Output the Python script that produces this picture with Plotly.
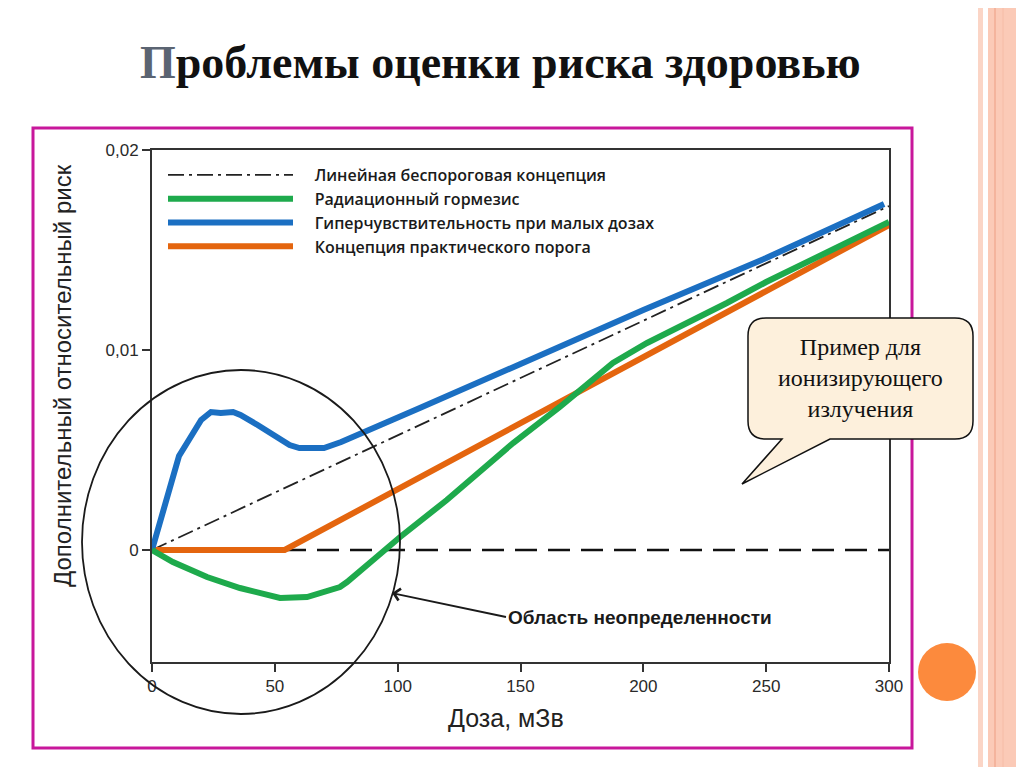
import plotly.graph_objects as go

# ---------------- data ----------------
series_names = [
    "Линейная беспороговая концепция",
    "Радиационный гормезис",
    "Гиперчувствительность при малых дозах",
    "Концепция практического порога",
]

dose_lnt = [0, 300]
risk_lnt = [0, 0.0172]

dose_zero = [0, 300]
risk_zero = [0, 0]

dose_hormesis = [0, 2.4, 8.5, 22.4, 35.8, 52.1, 63.1, 76.5, 79.4, 90, 101, 120, 147, 166, 174,
                 187.6, 201.5, 215, 234, 250, 300]
risk_hormesis = [0, -0.00015, -0.0006, -0.00135, -0.0019, -0.0024, -0.00235, -0.00185, -0.0016,
                 -0.0005, 0.00065, 0.0025, 0.00535, 0.00715, 0.008, 0.00935, 0.01035, 0.01115,
                 0.01235, 0.0134, 0.0164]

dose_hyper = [0, 5, 11, 15, 20, 24, 28, 33, 36, 43, 49, 56, 60, 70, 77, 86, 109, 150, 200, 250, 298]
risk_hyper = [0, 0.0022, 0.0047, 0.0055, 0.0065, 0.0069, 0.00685, 0.0069, 0.00675, 0.00625,
              0.00575, 0.00525, 0.0051, 0.0051, 0.0054, 0.0059, 0.0071, 0.0093, 0.0120, 0.0146, 0.0173]

dose_threshold = [0, 54, 300]
risk_threshold = [0, 0, 0.01625]

x_tick_vals = [0, 50, 100, 150, 200, 250, 300]
x_tick_text = ["0", "50", "100", "150", "200", "250", "300"]
y_tick_vals = [0, 0.01, 0.02]
y_tick_text = ["0", "0,01", "0,02"]

title_first = "П"
title_rest = "роблемы оценки риска здоровью"
x_title = "Доза, мЗв"
y_title = "Дополнительный относительный риск"
callout_text = "Пример для<br>ионизирующего<br>излучения"
region_text = "Область неопределенности"

# ---------------- layout geometry (page pixels) ----------------
W, H = 1024, 767
OFF = 8                      # default body margin of the html page
PL, PR, PT, PB = 152, 889, 150, 662
FW, FH = W - OFF, H - OFF    # figure size so that it fits the window
LEG_PAD = "\u00a0" * 4       # visual gap between legend line and its text


def fx(p):
    return (p - PL) / (PR - PL)


def fy(p):
    return (PB - p) / (PB - PT)


SANS = "Liberation Sans, Arial, sans-serif"
LEGSANS = "Open Sans, Liberation Sans, Arial, sans-serif"
SERIF = "Liberation Serif, Times New Roman, serif"

fig = go.Figure()

fig.add_trace(go.Scatter(x=dose_zero, y=risk_zero, mode="lines", showlegend=False,
                         line=dict(color="#111111", width=2.5, dash="22px,11px"),
                         hoverinfo="skip"))
fig.add_trace(go.Scatter(x=dose_lnt, y=risk_lnt, mode="lines", name=LEG_PAD + series_names[0],
                         legendrank=1,
                         line=dict(color="#222222", width=1.8, dash="16px,5px,3px,5px")))
fig.add_trace(go.Scatter(x=dose_threshold, y=risk_threshold, mode="lines", name=LEG_PAD + series_names[3],
                         legendrank=4,
                         line=dict(color="#e4650e", width=6)))
fig.add_trace(go.Scatter(x=dose_hyper, y=risk_hyper, mode="lines", name=LEG_PAD + series_names[2],
                         legendrank=3,
                         line=dict(color="#1b6fc2", width=6)))
fig.add_trace(go.Scatter(x=dose_hormesis, y=risk_hormesis, mode="lines", name=LEG_PAD + series_names[1],
                         legendrank=2,
                         line=dict(color="#1eaa4c", width=6)))

axis_common = dict(showline=True, mirror=True, linecolor="#333333", linewidth=2,
                   showgrid=False, zeroline=False, ticks="outside", ticklen=8,
                   tickwidth=1.5, tickcolor="#333333",
                   tickfont=dict(family=SANS, size=17, color="#2a2a2a"))

fig.update_xaxes(range=[0, 300], tickvals=x_tick_vals, ticktext=x_tick_text, **axis_common)
fig.update_yaxes(range=[(550 - PB) / 20000, 0.02], tickvals=y_tick_vals, ticktext=y_tick_text,
                 **axis_common)

shapes = []
# slide decoration stripes on the right
shapes.append(dict(type="rect", xref="paper", yref="paper", x0=fx(978), x1=fx(983), y0=fy(0), y1=fy(H),
                   fillcolor="#fbd5c6", line=dict(width=0), layer="below"))
shapes.append(dict(type="rect", xref="paper", yref="paper", x0=fx(988), x1=fx(W), y0=fy(0), y1=fy(H),
                   fillcolor="#fbcab7", line=dict(width=0), layer="below"))
shapes.append(dict(type="line", xref="paper", yref="paper", x0=fx(995), x1=fx(995), y0=fy(0), y1=fy(H),
                   line=dict(color="#f2ad94", width=1.5), layer="below"))
shapes.append(dict(type="line", xref="paper", yref="paper", x0=fx(1003), x1=fx(1003), y0=fy(0), y1=fy(H),
                   line=dict(color="#f6bca6", width=1), layer="below"))
# magenta frame
shapes.append(dict(type="rect", xref="paper", yref="paper", x0=fx(33), x1=fx(912), y0=fy(128), y1=fy(748),
                   line=dict(color="#c8179b", width=3), fillcolor="rgba(0,0,0,0)", layer="above"))
# uncertainty region ellipse
shapes.append(dict(type="circle", xref="paper", yref="paper", x0=fx(82), x1=fx(400), y0=fy(370), y1=fy(714),
                   line=dict(color="#1a1a1a", width=1.8), fillcolor="rgba(0,0,0,0)", layer="above"))
# orange circle decoration
shapes.append(dict(type="circle", xref="paper", yref="paper", x0=fx(918), x1=fx(976), y0=fy(643), y1=fy(701),
                   line=dict(width=0), fillcolor="#fc8a3d", layer="above"))

# callout bubble path
bx0, bx1, by0, by1, r = 748, 973, 318, 439, 18


def P(x, y):
    return f"{fx(x):.5f},{fy(y):.5f}"


path = (f"M{P(bx0 + r, by0)} L{P(bx1 - r, by0)} Q{P(bx1, by0)} {P(bx1, by0 + r)} "
        f"L{P(bx1, by1 - r)} Q{P(bx1, by1)} {P(bx1 - r, by1)} L{P(830, by1)} L{P(742, 484)} "
        f"L{P(782, by1)} L{P(bx0 + r, by1)} Q{P(bx0, by1)} {P(bx0, by1 - r)} "
        f"L{P(bx0, by0 + r)} Q{P(bx0, by0)} {P(bx0 + r, by0)} Z")
shapes.append(dict(type="path", xref="paper", yref="paper", path=path,
                   fillcolor="#fdf0dc", line=dict(color="#111111", width=1.5), layer="above"))

annotations = []
annotations.append(dict(xref="paper", yref="paper", x=fx(500), y=fy(62), showarrow=False,
                        text=f"<span style='color:#5b6472'>{title_first}</span>{title_rest}",
                        font=dict(family=SERIF, size=46, color="#111111", weight="bold"),
                        xanchor="center", yanchor="middle"))
annotations.append(dict(xref="paper", yref="paper", x=fx(62), y=fy(376), showarrow=False,
                        text=y_title, textangle=-90,
                        font=dict(family=SANS, size=24, color="#222222"),
                        xanchor="center", yanchor="middle"))
annotations.append(dict(xref="paper", yref="paper", x=fx(506), y=fy(718), showarrow=False,
                        text=x_title,
                        font=dict(family=SANS, size=25, color="#222222"),
                        xanchor="center", yanchor="middle"))
annotations.append(dict(xref="paper", yref="paper", x=fx(860), y=fy(378), showarrow=False,
                        text=callout_text, align="center",
                        font=dict(family=SERIF, size=24, color="#111111"),
                        xanchor="center", yanchor="middle"))
annotations.append(dict(xref="paper", yref="paper", x=fx(392), y=fy(593), showarrow=True,
                        ax=114, ay=24, axref="pixel", ayref="pixel",
                        xanchor="left", yanchor="middle",
                        arrowhead=4, arrowsize=1.3, arrowwidth=1.8, arrowcolor="#1a1a1a",
                        text=region_text,
                        font=dict(family=SANS, size=19, color="#1a1a1a", weight="bold")))

fig.update_layout(
    width=FW, height=FH,
    margin=dict(l=PL - OFF, r=FW - (PR - OFF), t=PT - OFF, b=FH - (PB - OFF), pad=0),
    paper_bgcolor="white", plot_bgcolor="white",
    shapes=shapes, annotations=annotations,
    showlegend=True,
    legend=dict(x=fx(163), y=fy(158), xanchor="left", yanchor="top",
                bgcolor="rgba(0,0,0,0)", itemwidth=125,
                font=dict(family=LEGSANS, size=16, color="#1a1a1a", weight=600)),
)

fig.write_html("out.html")
